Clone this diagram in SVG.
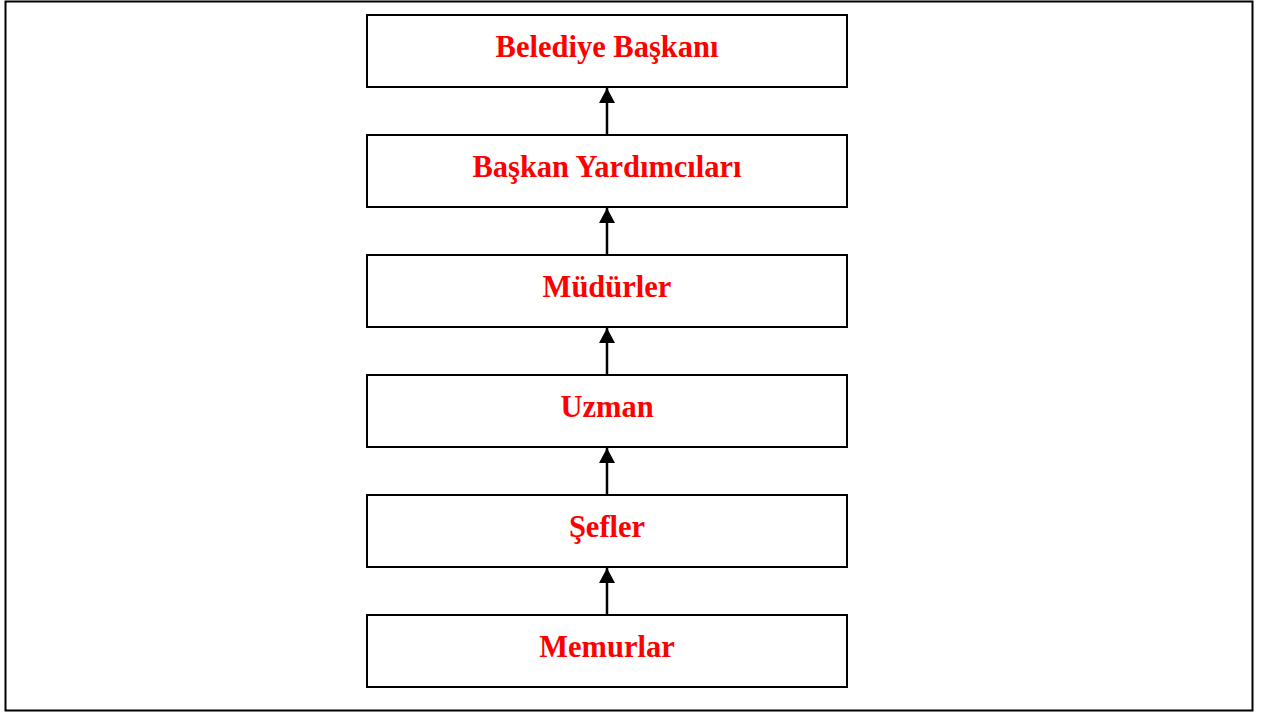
<svg xmlns="http://www.w3.org/2000/svg" width="1264" height="713" viewBox="0 0 1264 713">
<style>
.box{fill:#fff;stroke:#000;stroke-width:2}
.lbl{font-family:"Liberation Serif","Times New Roman",serif;font-weight:bold;font-size:30.5px;fill:#ff0000;text-anchor:middle}
.con{stroke:#000;stroke-width:2.5;fill:none}
</style>
<defs>
<marker id="ah" markerUnits="userSpaceOnUse" markerWidth="16" markerHeight="18" refX="15" refY="8" orient="auto">
<path d="M0,0 L15,8 L0,16 Z" fill="#000"/>
</marker>
</defs>
<rect x="0" y="0" width="1264" height="713" fill="#fff"/>
<rect x="5.5" y="1.5" width="1247" height="709" fill="none" stroke="#000" stroke-width="2"/>
<g id="connectors">
<line class="con" x1="607" y1="135" x2="607" y2="88" marker-end="url(#ah)"/>
<line class="con" x1="607" y1="255" x2="607" y2="208" marker-end="url(#ah)"/>
<line class="con" x1="607" y1="375" x2="607" y2="328" marker-end="url(#ah)"/>
<line class="con" x1="607" y1="495" x2="607" y2="448" marker-end="url(#ah)"/>
<line class="con" x1="607" y1="615" x2="607" y2="568" marker-end="url(#ah)"/>
</g>
<g id="n1"><rect class="box" x="367" y="15" width="480" height="72"/><text class="lbl" x="607" y="57">Belediye Başkanı</text></g>
<g id="n2"><rect class="box" x="367" y="135" width="480" height="72"/><text class="lbl" x="607" y="177">Başkan Yardımcıları</text></g>
<g id="n3"><rect class="box" x="367" y="255" width="480" height="72"/><text class="lbl" x="607" y="297">Müdürler</text></g>
<g id="n4"><rect class="box" x="367" y="375" width="480" height="72"/><text class="lbl" x="607" y="417">Uzman</text></g>
<g id="n5"><rect class="box" x="367" y="495" width="480" height="72"/><text class="lbl" x="607" y="537">Şefler</text></g>
<g id="n6"><rect class="box" x="367" y="615" width="480" height="72"/><text class="lbl" x="607" y="657">Memurlar</text></g>
</svg>
